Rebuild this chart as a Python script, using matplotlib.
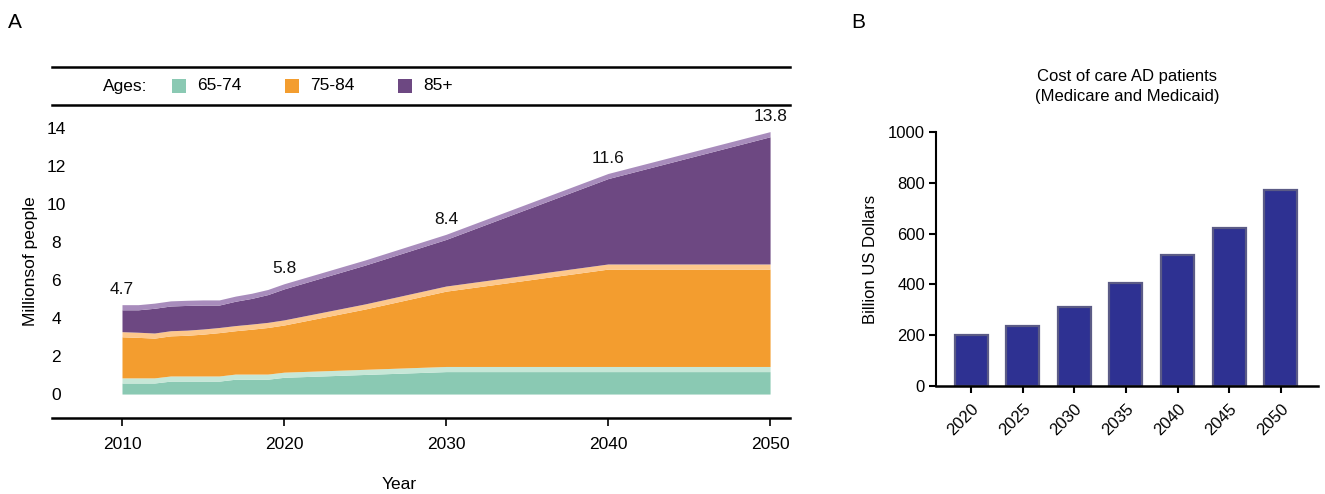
import matplotlib
matplotlib.use("Agg")
import matplotlib.pyplot as plt
from matplotlib.lines import Line2D
from matplotlib.patches import Rectangle
import numpy as np

plt.rcParams['font.family'] = ['Liberation Sans', 'DejaVu Sans']

# ---- Panel A: projected number of people with AD, by age group (millions) ----
years = [2010, 2011, 2012, 2013, 2014, 2015, 2016, 2017, 2018, 2019, 2020,
         2025, 2030, 2040, 2050]
age_65_74 = [0.85, 0.85, 0.85, 0.95, 0.95, 0.95, 0.95, 1.05, 1.05, 1.05, 1.15,
             1.30, 1.45, 1.45, 1.45]
age_75_84 = [2.43, 2.40, 2.36, 2.38, 2.41, 2.47, 2.55, 2.55, 2.63, 2.72, 2.75,
             3.44, 4.23, 5.39, 5.39]
age_85_plus = [1.42, 1.45, 1.57, 1.57, 1.57, 1.53, 1.45, 1.55, 1.62, 1.73, 1.90,
               2.31, 2.72, 4.76, 6.96]
label_years = [2010, 2020, 2030, 2040, 2050]
label_totals = [4.7, 5.8, 8.4, 11.6, 13.8]
age_groups = ['65-74', '75-84', '85+']

# ---- Panel B: cost of care (billion US dollars) ----
cost_years = ['2020', '2025', '2030', '2035', '2040', '2045', '2050']
cost_values = [200, 236, 312, 407, 517, 623, 772]

dark = ['#8ac9b3', '#f39d2f', '#6d4882']
light = ['#c6e7d7', '#fdc88c', '#a88cbc']
band = 0.27

W, H = 1325, 494
fig = plt.figure(figsize=(W / 100, H / 100), dpi=100)


def fx(px):
    return px / W


def fy(py):
    return 1 - py / H


# ---------------- Panel A ----------------
axA = fig.add_axes([fx(52), fy(418), fx(790) - fx(52), fy(105) - fy(418)])
yrs = np.array(years, dtype=float)
layers = [np.array(age_65_74), np.array(age_75_84), np.array(age_85_plus)]
base = np.zeros_like(yrs)
for vals, dc, lc in zip(layers, dark, light):
    top = base + vals
    axA.fill_between(yrs, base, top - band, color=dc, linewidth=0)
    axA.fill_between(yrs, top - band, top, color=lc, linewidth=0)
    base = top

for yr, tot in zip(label_years, label_totals):
    axA.annotate(f'{tot}', (yr, tot), xytext=(0, 11), textcoords='offset points',
                 ha='center', va='center', fontsize=12.5, color='#111111')

axA.set_xlim(2005.68, 2051.23)
axA.set_ylim(-1.26, 15.2)
axA.set_xticks(label_years)
axA.set_xticklabels([str(y) for y in label_years], fontsize=12.5)
axA.set_yticks(range(0, 15, 2))
axA.set_yticklabels([str(v) for v in range(0, 15, 2)], fontsize=12.5, ha='center')
axA.tick_params(axis='y', length=0, pad=-2.9)
axA.tick_params(axis='x', length=6, width=1.2, pad=8, direction='out')
for s in ['top', 'right', 'left']:
    axA.spines[s].set_visible(False)
axA.spines['bottom'].set_linewidth(1.8)
axA.set_xlabel('Year', fontsize=12.5)
axA.xaxis.set_label_coords((399 - 52) / 738, (418 - 477) / 313)
axA.set_ylabel('Millionsof people', fontsize=12.5)
axA.yaxis.set_label_coords((38 - 52) / 738, 0.5)

# header band with legend
for py in (67, 105):
    fig.add_artist(Line2D([fx(52), fx(790)], [fy(py), fy(py)], color='black',
                          linewidth=1.8, transform=fig.transFigure))
fig.text(fx(103), fy(86), 'Ages:', fontsize=12.5, va='center', ha='left')
leg_x = [172, 285, 398]
for x0, dc, name in zip(leg_x, dark, age_groups):
    fig.add_artist(Rectangle((fx(x0), fy(93)), fx(14), fy(79) - fy(93),
                             facecolor=dc, edgecolor='none',
                             transform=fig.transFigure))
    fig.text(fx(x0 + 25), fy(86), name, fontsize=12.5, va='center', ha='left')

fig.text(fx(8), fy(22), 'A', fontsize=15, va='center', ha='left')
fig.text(fx(851), fy(22), 'B', fontsize=15, va='center', ha='left')

# ---------------- Panel B ----------------
axB = fig.add_axes([fx(936), fy(386), fx(1318) - fx(936), fy(132) - fy(386)])
xpos = np.arange(len(cost_years))
axB.bar(xpos, cost_values, width=0.64, color='#2e3192', edgecolor='#5b5b86',
        linewidth=1.6)
axB.set_xlim(-0.68, 6.72)
axB.set_ylim(0, 1000)
axB.set_yticks(range(0, 1001, 200))
axB.set_yticklabels([str(v) for v in range(0, 1001, 200)], fontsize=12)
axB.set_xticks(xpos)
axB.set_xticklabels(cost_years, rotation=45, ha='right', rotation_mode='anchor',
                    fontsize=12)
axB.tick_params(axis='both', length=5, width=1.5, direction='out', pad=3)
axB.tick_params(axis='x', pad=6)
for s in ['top', 'right']:
    axB.spines[s].set_visible(False)
axB.spines['left'].set_linewidth(1.5)
axB.spines['bottom'].set_linewidth(1.8)
axB.set_ylabel('Billion US Dollars', fontsize=12)
axB.yaxis.set_label_coords((878 - 936) / 382, 0.5)
axB.set_title('Cost of care AD patients\n(Medicare and Medicaid)', fontsize=12,
              pad=22, linespacing=1.45)

fig.savefig('out.png', dpi=100)
